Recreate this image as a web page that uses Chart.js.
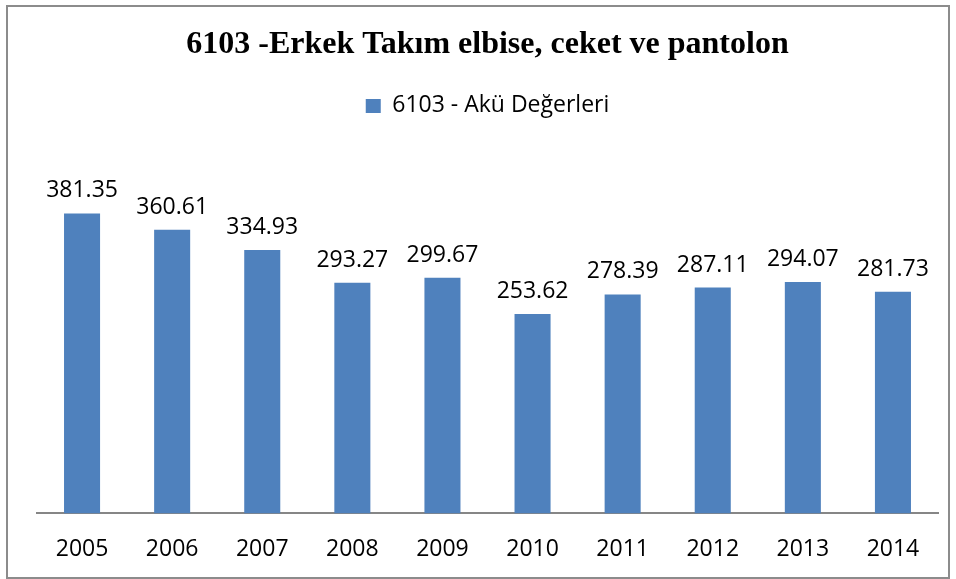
<!DOCTYPE html>
<html>
<head>
<meta charset="utf-8">
<script src="https://cdn.jsdelivr.net/npm/chart.js@4.4.0/dist/chart.umd.min.js"></script>
<style>
  body { margin: 0; background: #fff; }
  #wrap { position: relative; width: 956px; height: 579px; }
  #frame { position: absolute; left: 6px; top: 5px; width: 940px; height: 570px;
           border: 2px solid #8c8c8c; pointer-events: none; }
</style>
</head>
<body>
<div id="wrap">
  <canvas id="chart-area" width="956" height="579"></canvas>
  <div id="frame"></div>
</div>
<script>
	//data
	var years = ["2005", "2006", "2007", "2008", "2009", "2010", "2011", "2012", "2013", "2014"];
	var akuValues = [381.35, 360.61, 334.93, 293.27, 299.67, 253.62, 278.39, 287.11, 294.07, 281.73];
	var seriesName = "6103 - Akü Değerleri";
	var chartTitle = "6103 -Erkek Takım elbise, ceket ve pantolon";

// writes the value above every bar
var valueLabels = {
	id: 'valueLabels',
	beforeInit: function (chart) {
		// leave some empty room under the legend
		var fit = chart.legend.fit;
		chart.legend.fit = function () {
			fit.call(this);
			this.height += 32;
		};
	},
	afterDatasetsDraw: function (chart) {
		var ctx = chart.ctx;
		var meta = chart.getDatasetMeta(0);
		ctx.save();
		ctx.font = '23px "Open Sans"';
		ctx.fillStyle = '#000';
		ctx.textAlign = 'center';
		ctx.textBaseline = 'alphabetic';
		meta.data.forEach(function (bar, i) {
			ctx.fillText(akuValues[i].toFixed(2), bar.x, bar.y - 16);
		});
		ctx.restore();
	}
};

	init();

function init () {
	barChart();
}

function barChart () {
	var config = {
		type: 'bar',
		data: {
			labels: years,
			datasets: [{
				label: seriesName,
				data: akuValues,
				backgroundColor: "#4F81BD",
				barPercentage: 0.4,
				categoryPercentage: 1.0
			}]
		},
		options: {
			responsive: false,
			animation: false,
			layout: {
				padding: { left: 37, right: 18, top: 20, bottom: -6 }
			},
			plugins: {
				title: {
					display: true,
					text: chartTitle,
					color: '#000',
					font: { family: '"Liberation Serif"', size: 32, weight: 'bold' },
					padding: { top: 6, bottom: 20 }
				},
				legend: {
					display: true,
					labels: {
						color: '#000',
						font: { family: '"Open Sans"', size: 23 },
						boxWidth: 15,
						boxHeight: 14,
						padding: 10
					}
				},
				tooltip: { enabled: false }
			},
			scales: {
				x: {
					grid: { display: false, drawTicks: false },
					border: { display: true, color: '#868686', width: 2 },
					ticks: {
						color: '#000',
						font: { family: '"Open Sans"', size: 23 },
						padding: 22
					}
				},
				y: {
					display: false,
					min: 0,
					max: 450
				}
			}
		},
		plugins: [valueLabels]
	};

	var ctx = document.getElementById("chart-area").getContext("2d");
	window.myBar = new Chart(ctx, config);
}
</script>
</body>
</html>
